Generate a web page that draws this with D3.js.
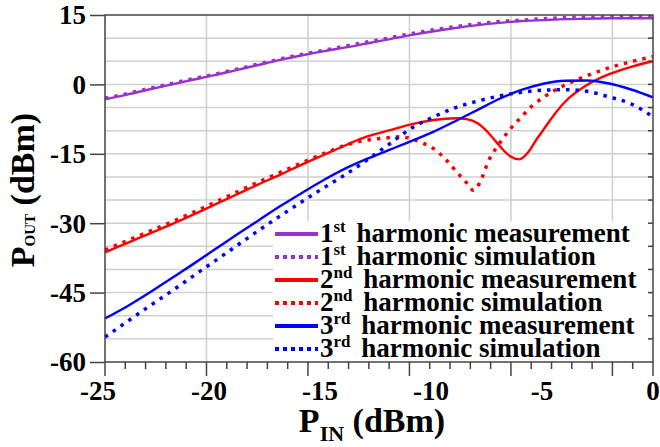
<!DOCTYPE html>
<html><head><meta charset="utf-8">
<script src="https://cdn.jsdelivr.net/npm/d3@7/dist/d3.min.js"></script>
</head><body style="margin:0">
<svg id="chart" width="660" height="447"></svg>
<script>
// ---- data ----
const pinTicks = [-25, -20, -15, -10, -5, 0];
const poutTicks = [-60, -45, -30, -15, 0, 15];
const pinStep = [-25,-24,-23,-22,-21,-20,-19,-18,-17,-16,-15,-14,-13,-12,-11,-10,-9,-8,-7,-6,-5,-4,-3,-2,-1,0];

const h1Meas = [-3.2,-2.2,-1.1,-0.05,1.0,2.0,3.1,4.2,5.3,6.3,7.2,8.0,8.9,9.8,10.7,11.5,12.2,12.8,13.3,13.7,13.9,14.1,14.2,14.3,14.3,14.3];
const h1Sim  = [-3.0,-2.0,-0.9,0.15,1.2,2.2,3.3,4.4,5.5,6.5,7.4,8.3,9.2,10.1,11.0,11.8,12.5,13.1,13.6,13.9,14.2,14.4,14.5,14.6,14.6,14.6];

const h2MeasX = [-25,-24,-23,-22,-21,-20,-19,-18,-17,-16,-15,-14,-13,-12,-11,-10,-9,-8.5,-8,-7.5,-7,-6.5,-6.1,-5.7,-5.3,-5,-4.5,-4,-3,-2,-1,0];
const h2MeasY = [-36.3,-34.3,-32.3,-30.3,-28.2,-26.0,-23.8,-21.6,-19.5,-17.3,-15.2,-13.1,-11.2,-9.9,-8.6,-7.7,-7.3,-7.5,-8.4,-10.5,-13.3,-15.6,-16.2,-14.7,-11.8,-9.8,-6.5,-3.7,-0.1,2.2,3.8,5.0];

const h2SimX = [-25,-24,-23,-22,-21,-20,-19,-18,-17,-16,-15,-14,-13,-12,-11.5,-11,-10.5,-10,-9.5,-9,-8.5,-8.2,-7.9,-7.5,-7,-6.5,-6,-5.5,-5,-4,-3,-2,-1,0];
const h2SimY = [-35.8,-33.8,-31.8,-29.8,-27.7,-25.5,-23.3,-21.1,-19.0,-16.9,-14.9,-13.1,-12.0,-11.5,-11.3,-11.8,-12.7,-13.9,-16.0,-18.7,-21.3,-22.9,-21.2,-16.5,-12.7,-9.6,-7.0,-4.6,-2.8,-0.1,1.9,3.6,4.9,6.0];

const h3Meas = [-50.6,-48.0,-45.1,-42.0,-38.9,-35.7,-32.5,-29.4,-26.3,-23.4,-20.6,-18.1,-16.0,-14.1,-12.2,-10.2,-7.9,-5.5,-3.1,-1.2,0.15,0.8,0.85,0.2,-1.1,-2.8];
const h3Sim  = [-54.6,-51.3,-48.0,-44.8,-41.5,-38.2,-34.9,-31.6,-28.4,-25.3,-22.3,-19.4,-16.2,-12.8,-9.4,-7.0,-5.0,-3.6,-2.5,-1.7,-1.25,-1.15,-1.5,-2.7,-4.2,-7.0];

const legendNum = ["1","1","2","2","3","3"];
const legendSup = ["st","st","nd","nd","rd","rd"];
const legendText = ["harmonic measurement","harmonic simulation","harmonic measurement","harmonic simulation","harmonic measurement","harmonic simulation"];
const colors = ["#9932CC","#9932CC","#FF0000","#FF0000","#0000FF","#0000FF"];
const dashed = [false,true,false,true,false,true];

// ---- layout ----
const FAM = "\"Times New Roman\"";
const L = 105, R = 653, T = 15, B = 362;
const svg = d3.select("#chart");
const x = d3.scaleLinear().domain([-25, 0]).range([L, R]);        // data
const xGrid = d3.scaleLinear().domain([-25, 2]).range([L, R]);    // grid / ticks as drawn in the reference
const xLab = d3.scaleLinear().domain([-25, 0]).range([98, R]);    // tick-label placement as in the reference
const y = d3.scaleLinear().domain([-60, 15]).range([B, T]);

function styleText(sel, size) {
  sel.style("font-family", FAM).style("font-weight", "bold").style("font-size", size + "px");
}

// gridlines
const grid = svg.append("g").attr("stroke", "#cfcfcf").attr("stroke-width", 1.5);
grid.selectAll("line.h").data(d3.range(-55, 15, 5)).join("line")
  .attr("x1", L).attr("x2", R).attr("y1", d => y(d)).attr("y2", d => y(d));
grid.selectAll("line.v").data([-20, -15, -10, -5, 0]).join("line")
  .attr("y1", T).attr("y2", B).attr("x1", d => xGrid(d)).attr("x2", d => xGrid(d));

// series
const zip = (xs, ys) => xs.map((v, i) => [v, ys[i]]);
const series = [
  zip(pinStep, h1Sim), zip(pinStep, h1Meas),
  zip(h2SimX, h2SimY), zip(h2MeasX, h2MeasY),
  zip(pinStep, h3Sim), zip(pinStep, h3Meas)
];
const sColor = ["#9932CC","#9932CC","#FF0000","#FF0000","#0000FF","#0000FF"];
const sDash = [true,false,true,false,true,false];
const line = d3.line().x(d => x(d[0])).y(d => y(d[1])).curve(d3.curveMonotoneX);
svg.append("g").selectAll("path").data(series).join("path")
  .attr("d", line)
  .attr("fill", "none")
  .attr("stroke", (d, i) => sColor[i])
  .attr("stroke-width", (d, i) => sDash[i] ? 3.5 : 2.4)
  .attr("stroke-dasharray", (d, i) => sDash[i] ? "3.5,6" : null);

// legend
const lg = svg.append("g");
lg.append("rect").attr("x", 273).attr("y", 221).attr("width", 378).attr("height", 140).attr("fill", "#fff");
const rows = lg.selectAll("g").data(legendText).join("g")
  .attr("transform", (d, i) => `translate(0,${234 + i * 23})`);
rows.append("line").attr("x1", 275).attr("x2", 318).attr("y1", 0).attr("y2", 0)
  .attr("stroke", (d, i) => colors[i]).attr("stroke-width", 4)
  .attr("stroke-dasharray", (d, i) => dashed[i] ? "4,4" : null);
const lt = rows.append("text").attr("x", 320).attr("y", 8);
styleText(lt, 27);
lt.append("tspan").text((d, i) => legendNum[i]);
lt.append("tspan").attr("dy", -10).style("font-size", "17px").text((d, i) => legendSup[i]);
lt.append("tspan").attr("dy", 10).attr("dx", 4).text(d => " " + d);

// frame
svg.append("rect").attr("x", L).attr("y", T).attr("width", R - L).attr("height", B - T)
  .attr("fill", "none").attr("stroke", "#444").attr("stroke-width", 1.5);

// bottom ticks (grid spacing)
const ax = svg.append("g").attr("stroke", "#444").attr("stroke-width", 1.5);
ax.selectAll("line.mn").data(d3.range(-25, 3)).join("line")
  .attr("x1", d => xGrid(d)).attr("x2", d => xGrid(d)).attr("y1", B)
  .attr("y2", d => (d % 5 === 0 || d === 2) ? B + 14 : B + 7);
// right inward ticks
ax.selectAll("line.r").data(d3.range(-55, 15, 5)).join("line")
  .attr("x1", R - 5).attr("x2", R).attr("y1", d => y(d)).attr("y2", d => y(d));

// left axis ticks
const yAxis = svg.append("g").attr("transform", `translate(${L},0)`)
  .call(d3.axisLeft(y).tickValues(poutTicks).tickSize(15).tickFormat(""));
yAxis.select(".domain").remove();
yAxis.selectAll("line").attr("stroke", "#444").attr("stroke-width", 1.5);
const yl = svg.append("g").selectAll("text").data(poutTicks).join("text")
  .attr("x", 86).attr("y", d => y(d)).attr("dy", "0.35em").attr("text-anchor", "end")
  .text(d => String(d));
styleText(yl, 27);

// bottom labels
const xl = svg.append("g").selectAll("text").data(pinTicks).join("text")
  .attr("x", d => xLab(d)).attr("y", 400).attr("text-anchor", "middle")
  .text(d => String(d));
styleText(xl, 27);

// axis titles
const xt = svg.append("text").attr("x", 372).attr("y", 432).attr("text-anchor", "middle");
styleText(xt, 34);
xt.append("tspan").text("P");
xt.append("tspan").attr("dy", 9).style("font-size", "22px").text("IN");
xt.append("tspan").attr("dy", -9).text(" (dBm)");

const yt = svg.append("text").attr("transform", "translate(34,190) rotate(-90)").attr("text-anchor", "middle");
styleText(yt, 34);
yt.append("tspan").text("P");
yt.append("tspan").attr("dy", 1).style("font-size", "15px").text("OUT");
yt.append("tspan").attr("dy", -1).text(" (dBm)");
</script>
</body></html>
